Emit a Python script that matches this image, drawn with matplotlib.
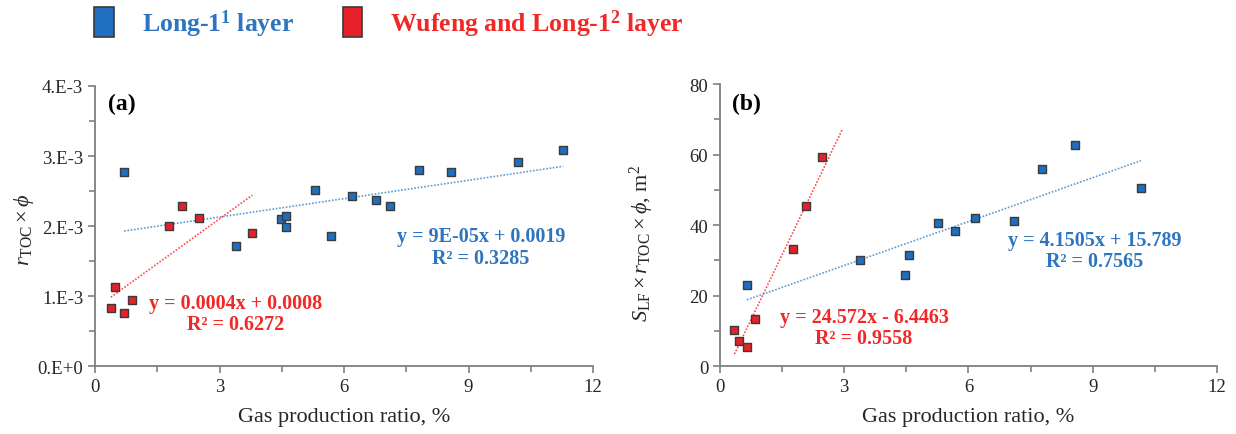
import matplotlib
matplotlib.use("Agg")
import matplotlib.pyplot as plt
import numpy as np
from matplotlib.patches import Patch
from matplotlib.ticker import MultipleLocator, FixedLocator

plt.rcParams['font.family'] = ['Liberation Serif', 'DejaVu Serif']
plt.rcParams['mathtext.fontset'] = 'custom'
plt.rcParams['mathtext.rm'] = 'Liberation Serif'
plt.rcParams['mathtext.it'] = 'Liberation Serif:italic'
plt.rcParams['mathtext.bf'] = 'Liberation Serif:bold'

# ---------------- data ----------------
# panel (a): r_TOC x phi
a_blue_x = [0.70, 3.40, 4.49, 4.59, 4.59, 5.29, 5.69, 6.20, 6.78, 7.10, 7.80, 8.58, 10.18, 11.28]
a_blue_y = [2.766e-3, 1.72e-3, 2.095e-3, 2.137e-3, 1.98e-3, 2.51e-3, 1.853e-3, 2.43e-3,
            2.37e-3, 2.28e-3, 2.80e-3, 2.766e-3, 2.92e-3, 3.08e-3]
a_red_x = [0.38, 0.49, 0.70, 0.89, 1.78, 2.10, 2.50, 3.79]
a_red_y = [0.823e-3, 1.13e-3, 0.752e-3, 0.936e-3, 2.005e-3, 2.29e-3, 2.12e-3, 1.905e-3]

# panel (b): S_LF x r_TOC x phi, m^2
b_blue_x = [0.65, 3.38, 4.48, 4.56, 5.27, 5.67, 6.16, 7.09, 7.78, 8.57, 10.17]
b_blue_y = [22.9, 30.2, 25.8, 31.4, 40.7, 38.3, 42.0, 41.1, 56.0, 62.7, 50.6]
b_red_x = [0.35, 0.46, 0.65, 0.85, 1.76, 2.07, 2.46]
b_red_y = [10.2, 7.06, 5.46, 13.46, 33.2, 45.5, 59.4]

series_names = ['Long-1$^{\\mathbf{1}}$ layer', 'Wufeng and Long-1$^{\\mathbf{2}}$ layer']
a_yticks = [0, 1e-3, 2e-3, 3e-3, 4e-3]
a_yticklabels = ['0.E+0', '1.E-3', '2.E-3', '3.E-3', '4.E-3']
b_yticks = [0, 20, 40, 60, 80]
x_ticks = [0, 3, 6, 9, 12]

a_eq_blue = ['y = 9E-05x + 0.0019', 'R² = 0.3285']
a_eq_red = ['y = 0.0004x + 0.0008', 'R² = 0.6272']
b_eq_blue = ['y = 4.1505x + 15.789', 'R² = 0.7565']
b_eq_red = ['y = 24.572x - 6.4463', 'R² = 0.9558']

# ---------------- style ----------------
BLUE_M = '#1f6ebf'
RED_M = '#e8202a'
BLUE_T = '#2e75c0'
RED_T = '#f02828'
BLUE_L = '#5b9bd5'
RED_L = '#ff4a4a'
EDGE = '#3a3a3a'
AX = '#7f7f7f'
TXT = '#262626'

fig = plt.figure(figsize=(12.36, 4.35), dpi=100)
axA = fig.add_axes([0.0769, 0.1563, 0.4029, 0.6437])
axB = fig.add_axes([0.5825, 0.1563, 0.4020, 0.6480])


def style(ax, ylim, yticks, ylabels, yminor):
    ax.set_xlim(0, 12)
    ax.set_ylim(*ylim)
    for s in ['top', 'right']:
        ax.spines[s].set_visible(False)
    for s in ['left', 'bottom']:
        ax.spines[s].set_color(AX)
        ax.spines[s].set_linewidth(1.3)
    ax.xaxis.set_major_locator(FixedLocator(x_ticks))
    ax.xaxis.set_minor_locator(MultipleLocator(1.5))
    ax.yaxis.set_major_locator(FixedLocator(yticks))
    ax.yaxis.set_minor_locator(MultipleLocator(yminor))
    ax.set_xticklabels([str(t) for t in x_ticks])
    ax.set_yticklabels(ylabels)
    ax.tick_params(which='both', direction='out', color=AX, width=1.2, labelcolor=TXT, labelsize=13.5)
    ax.tick_params(which='major', length=5)
    ax.tick_params(which='minor', length=4)
    ax.set_xlabel('Gas production ratio, %', fontsize=16, color=TXT, labelpad=9)


def trend(ax, x, y, color, extend=0.0):
    x = np.asarray(x); y = np.asarray(y)
    k, b = np.polyfit(x, y, 1)
    xx = np.array([x.min(), x.max() + extend])
    ax.plot(xx, k * xx + b, linestyle=(0, (1.0, 1.0)), color=color, lw=1.2, zorder=2)


def pts(ax, x, y, color):
    ax.scatter(x, y, marker='s', s=38, facecolor=color, edgecolor=EDGE, linewidth=1.0, zorder=3)


def eq(ax, lines, xf, yf1, yf2, color):
    ax.text(xf, yf1, lines[0], transform=ax.transAxes, ha='center', va='center',
            color=color, fontsize=14.5, fontweight='bold')
    ax.text(xf, yf2, lines[1], transform=ax.transAxes, ha='center', va='center',
            color=color, fontsize=14.5, fontweight='bold')


# panel (a)
style(axA, (0, 4e-3), a_yticks, a_yticklabels, 0.5e-3)
trend(axA, a_blue_x, a_blue_y, BLUE_L)
trend(axA, a_red_x, a_red_y, RED_L)
pts(axA, a_blue_x, a_blue_y, BLUE_M)
pts(axA, a_red_x, a_red_y, RED_M)
axA.set_ylabel(r'$r_{\rm TOC}\times\phi$', fontsize=16, color=TXT)
axA.yaxis.set_label_coords(-0.118, 0.49)
axA.text(0.054, 0.937, '(a)', transform=axA.transAxes, ha='center', va='center',
         fontsize=17, fontweight='bold', color='black')
eq(axA, a_eq_blue, 0.775, 0.465, 0.385, BLUE_T)
eq(axA, a_eq_red, 0.282, 0.225, 0.149, RED_T)

# panel (b)
style(axB, (0, 80), b_yticks, [str(t) for t in b_yticks], 10)
trend(axB, b_blue_x, b_blue_y, BLUE_L)
trend(axB, b_red_x, b_red_y, RED_L, extend=0.5)
pts(axB, b_blue_x, b_blue_y, BLUE_M)
pts(axB, b_red_x, b_red_y, RED_M)
axB.set_ylabel(r'$S_{\rm LF}\times r_{\rm TOC}\times\phi$, m$^{2}$', fontsize=16, color=TXT)
axB.yaxis.set_label_coords(-0.128, 0.44)
axB.text(0.053, 0.933, '(b)', transform=axB.transAxes, ha='center', va='center',
         fontsize=17, fontweight='bold', color='black')
eq(axB, b_eq_blue, 0.755, 0.447, 0.371, BLUE_T)
eq(axB, b_eq_red, 0.290, 0.175, 0.100, RED_T)

# legend
handles = [Patch(facecolor=BLUE_M, edgecolor=EDGE, linewidth=1.2),
           Patch(facecolor=RED_M, edgecolor=EDGE, linewidth=1.2)]
leg = fig.legend(handles, series_names, loc='center left', bbox_to_anchor=(0.068, 0.945),
                 ncol=2, frameon=False, handlelength=0.75, handleheight=1.4,
                 handletextpad=1.1, columnspacing=1.9, borderaxespad=0,
                 prop={'size': 18.5, 'weight': 'bold'})
for t, c in zip(leg.get_texts(), [BLUE_T, RED_T]):
    t.set_color(c)

fig.savefig('out.png', dpi=100)
